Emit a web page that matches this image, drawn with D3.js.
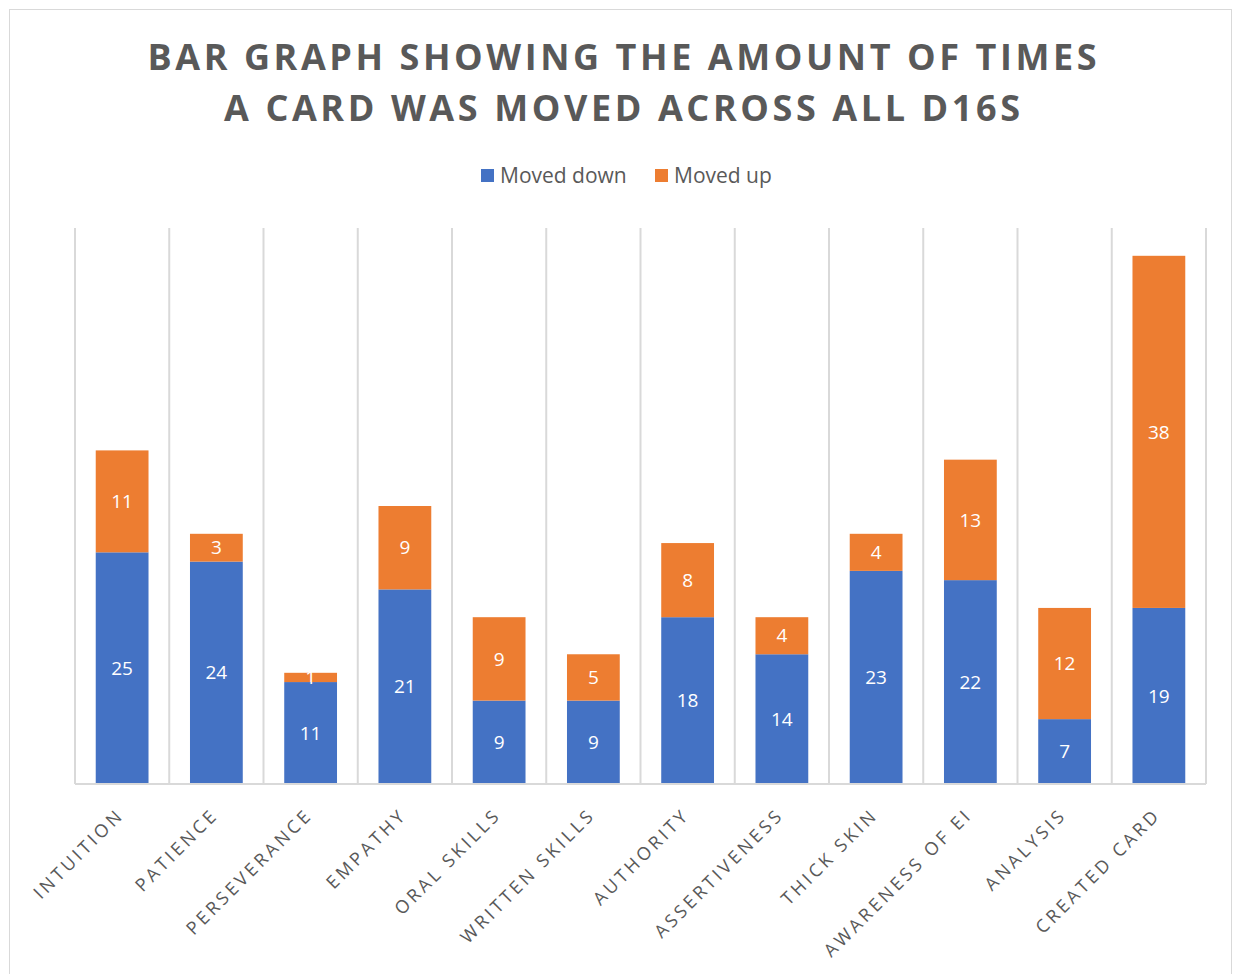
<!DOCTYPE html>
<html>
<head>
<meta charset="utf-8">
<script src="https://cdn.jsdelivr.net/npm/d3@7"></script>
<style>
  body { margin: 0; background: #fff; }
  svg { display: block; }
</style>
</head>
<body>
<svg id="chart" width="1233" height="974"></svg>
<script>
var categories = ["INTUITION", "PATIENCE", "PERSEVERANCE", "EMPATHY", "ORAL SKILLS", "WRITTEN SKILLS",
    "AUTHORITY", "ASSERTIVENESS", "THICK SKIN", "AWARENESS OF EI", "ANALYSIS", "CREATED CARD"];
var movedDown = [25, 24, 11, 21, 9, 9, 18, 14, 23, 22, 7, 19];
var movedUp = [11, 3, 1, 9, 9, 5, 8, 4, 4, 13, 12, 38];
var seriesNames = ["Moved down", "Moved up"];
var titleLines = ["BAR GRAPH SHOWING THE AMOUNT OF TIMES", "A CARD WAS MOVED ACROSS ALL D16S"];

var colors = ["#4472C4", "#ED7D31"];
var textColor = "#595959";
var gridColor = "#D9D9D9";

var svg = d3.select("#chart");

// outer chart border
svg.append("rect")
    .attr("x", 9.5).attr("y", 9.5)
    .attr("width", 1222).attr("height", 990)
    .attr("fill", "none")
    .attr("stroke", gridColor)
    .attr("stroke-width", 1);

// title
var titleWidths = [949, 796];
svg.selectAll(".title")
    .data(titleLines)
    .enter()
    .append("text")
    .attr("class", "title")
    .attr("x", 622)
    .attr("y", function (d, i) { return 70 + i * 51; })
    .attr("text-anchor", "middle")
    .attr("textLength", function (d, i) { return titleWidths[i]; })
    .attr("lengthAdjust", "spacing")
    .attr("fill", textColor)
    .style("font-family", "'Open Sans', sans-serif")
    .style("font-weight", 700)
    .style("font-size", "36px")
    .text(function (d) { return d; });

// legend
var legendX = [481, 655];
var legend = svg.selectAll(".legend")
    .data(seriesNames)
    .enter()
    .append("g")
    .attr("class", "legend")
    .attr("transform", function (d, i) { return "translate(" + legendX[i] + ",169)"; });
legend.append("rect")
    .attr("width", 13).attr("height", 13)
    .attr("fill", function (d, i) { return colors[i]; });
legend.append("text")
    .attr("x", 19).attr("y", 14)
    .attr("fill", textColor)
    .style("font-family", "'Open Sans', sans-serif")
    .style("font-size", "21px")
    .text(function (d) { return d; });

// scales
var plotLeft = 75, plotRight = 1206, plotTop = 228, plotBottom = 784;
var xScale = d3.scaleBand()
    .domain(categories)
    .range([plotLeft, plotRight])
    .paddingInner(0.44)
    .paddingOuter(0.22);
var yScale = d3.scaleLinear()
    .domain([0, 60])
    .range([plotBottom, plotTop]);

// vertical separators between categories
var step = xScale.step();
var gridX = d3.range(categories.length + 1).map(function (i) { return plotLeft + i * step; });
svg.append("g")
    .selectAll("line")
    .data(gridX)
    .enter()
    .append("line")
    .attr("x1", function (d) { return d; })
    .attr("x2", function (d) { return d; })
    .attr("y1", plotTop)
    .attr("y2", plotBottom)
    .attr("stroke", gridColor)
    .attr("stroke-width", 2);

// stacked data
var table = categories.map(function (c, i) {
    return { cat: c, down: movedDown[i], up: movedUp[i] };
});
var series = d3.stack().keys(["down", "up"])(table);

var groups = svg.selectAll(".series")
    .data(series)
    .enter()
    .append("g")
    .attr("class", "series");

groups.selectAll("rect")
    .data(function (d) { return d; })
    .enter()
    .append("rect")
    .attr("fill", function (d) { return colors[series.indexOf(d3.select(this.parentNode).datum())]; })
    .attr("x", function (d) { return xScale(d.data.cat); })
    .attr("width", xScale.bandwidth())
    .attr("y", function (d) { return yScale(d[1]); })
    .attr("height", function (d) { return yScale(d[0]) - yScale(d[1]); });

// data labels
groups.selectAll("text")
    .data(function (d) { return d; })
    .enter()
    .append("text")
    .attr("x", function (d) { return xScale(d.data.cat) + xScale.bandwidth() / 2; })
    .attr("y", function (d) { return (yScale(d[0]) + yScale(d[1])) / 2; })
    .attr("dy", "0.35em")
    .attr("text-anchor", "middle")
    .attr("fill", "#fff")
    .style("font-family", "'Open Sans', sans-serif")
    .style("font-size", "19px")
    .text(function (d) { return d[1] - d[0]; });

// x axis
var xAxis = d3.axisBottom(xScale).tickSize(0).tickPadding(0);
var axisG = svg.append("g")
    .attr("transform", "translate(0," + plotBottom + ")")
    .call(xAxis);
axisG.select(".domain")
    .attr("stroke", gridColor)
    .attr("stroke-width", 2)
    .attr("d", "M" + plotLeft + ",0H" + plotRight);
axisG.selectAll(".tick text")
    .attr("fill", textColor)
    .attr("text-anchor", "end")
    .attr("transform", "translate(3,32) rotate(-45)")
    .attr("dy", 0)
    .attr("y", 0)
    .style("font-family", "'Open Sans', sans-serif")
    .style("font-size", "18px")
    .style("letter-spacing", "3.3px");
</script>
</body>
</html>
